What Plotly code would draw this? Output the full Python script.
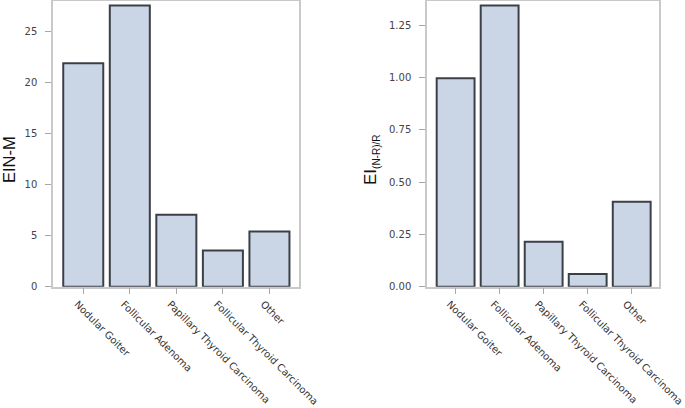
import plotly.graph_objects as go

categories = ["Nodular Goiter", "Follicular Adenoma", "Papillary Thyroid Carcinoma",
              "Follicular Thyroid Carcinoma", "Other"]
ei_nm = [21.9, 27.55, 7.05, 3.55, 5.4]
ei_nrr = [0.996, 1.343, 0.215, 0.061, 0.406]
left_ticks = [0, 5, 10, 15, 20, 25]
right_ticks = [0, 0.25, 0.5, 0.75, 1.0, 1.25]

W, H = 685, 408
bar_fill = "#cad6e6"
bar_line = "#3b4047"
frame = "#c9c9c9"
tickc = "#a8a8a8"
font = "DejaVu Sans"

fig = go.Figure()
fig.add_trace(go.Bar(x=categories, y=ei_nm, xaxis="x", yaxis="y",
                     marker=dict(color=bar_fill, line=dict(color=bar_line, width=2))))
fig.add_trace(go.Bar(x=categories, y=ei_nrr, xaxis="x2", yaxis="y2",
                     marker=dict(color=bar_fill, line=dict(color=bar_line, width=2))))

ydom = [1 - 286.7 / H, 1 - 1 / H]
common_x = dict(showline=True, mirror=True, linecolor=frame, linewidth=1.5,
                ticks="outside", ticklen=6, tickcolor=tickc, tickangle=45,
                ticklabelshift=-6,
                tickfont=dict(family=font, size=10, color="#333"),
                showgrid=False, zeroline=False, automargin=False)
common_y = dict(showline=True, mirror=True, linecolor=frame, linewidth=1.5,
                ticks="outside", ticklen=6, tickcolor=tickc, ticklabelstandoff=6,
                tickfont=dict(family=font, size=10, color="#444"),
                showgrid=False, zeroline=False, domain=ydom, automargin=False)

fig.update_layout(
    width=W, height=H, margin=dict(l=0, r=0, t=0, b=0),
    paper_bgcolor="white", plot_bgcolor="white", showlegend=False,
    bargap=0.14,
    xaxis=dict(domain=[53 / W, 299 / W], range=[-0.65, 4.635], anchor="y", **common_x),
    yaxis=dict(range=[0, 28.0], tickvals=left_ticks, anchor="x", **common_y),
    xaxis2=dict(domain=[427 / W, 659 / W], range=[-0.65, 4.62], anchor="y2", **common_x),
    yaxis2=dict(range=[0, 1.365], tickvals=right_ticks, tickformat=".2f", anchor="x2", **common_y),
    annotations=[
        dict(text="EIN-M", x=9 / W, y=1 - 160 / H, xref="paper", yref="paper",
             textangle=-90, showarrow=False, xanchor="center", yanchor="middle",
             font=dict(family="Liberation Sans", size=16.5, color="#111")),
        dict(text="EI<sub><span style='font-size:10px'>(N-R)/R</span></sub>",
             x=372 / W, y=1 - 160 / H, xref="paper", yref="paper",
             textangle=-90, showarrow=False, xanchor="center", yanchor="middle",
             font=dict(family="Liberation Sans", size=17, color="#111")),
    ],
)

fig.write_html("out.html", config={"displayModeBar": False},
               post_script="document.body.style.margin='0';document.body.style.overflow='hidden';")
